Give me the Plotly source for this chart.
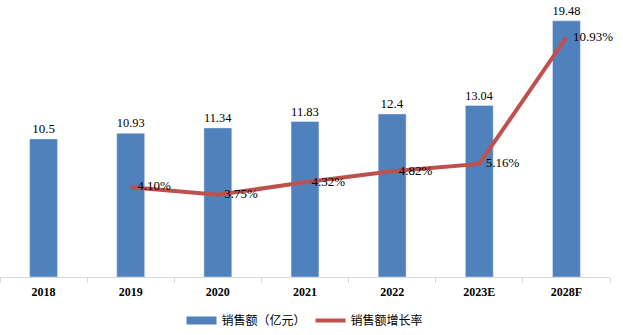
import plotly.graph_objects as go

categories = ["2018", "2019", "2020", "2021", "2022", "2023E", "2028F"]
sales = [10.5, 10.93, 11.34, 11.83, 12.4, 13.04, 19.48]
growth_cats = ["2019", "2020", "2021", "2022", "2023E", "2028F"]
growth = [4.10, 3.75, 4.32, 4.82, 5.16, 10.93]
growth_labels = ["4.10%", "3.75%", "4.32%", "4.82%", "5.16%", "10.93%"]

BLUE = "#4F81BD"
RED = "#C0504D"
SERIF = "Liberation Serif, Times New Roman, serif"
CJK = "Noto Sans CJK SC, sans-serif"
PAD = "\u00a0\u00a0"

fig = go.Figure()
fig.add_trace(go.Bar(
    x=categories, y=sales, marker_color=BLUE, width=0.32,
    text=[str(v) for v in sales], textposition="outside",
    textfont=dict(family=SERIF, size=13, color="#000000"),
    cliponaxis=False, showlegend=False, name="销售额（亿元）",
))
fig.add_trace(go.Scatter(
    x=growth_cats, y=growth, yaxis="y2", mode="lines+text",
    line=dict(color=RED, width=4),
    text=[PAD + t for t in growth_labels], textposition="middle right",
    textfont=dict(family=SERIF, size=13, color="#000000"),
    cliponaxis=False, showlegend=False, name="销售额增长率",
))
# legend entries
fig.add_trace(go.Scatter(
    x=[None], y=[None], mode="lines", line=dict(color=BLUE, width=8),
    name="销售额（亿元）", showlegend=True,
))
fig.add_trace(go.Scatter(
    x=[None], y=[None], mode="lines", line=dict(color=RED, width=4),
    name="销售额增长率", showlegend=True, yaxis="y2",
))

fig.update_layout(
    width=623, height=335,
    margin=dict(l=0, r=13, t=14, b=58),
    plot_bgcolor="white", paper_bgcolor="white",
    bargap=0.6,
    xaxis=dict(
        type="category", categoryorder="array", categoryarray=categories,
        showline=True, linecolor="#D9D9D9", linewidth=1,
        ticks="outside", tickson="boundaries", ticklen=5, tickcolor="#D9D9D9",
        tickfont=dict(family=SERIF, size=12, color="#000000", weight="bold"),
        ticklabelstandoff=4,
        showgrid=False,
    ),
    yaxis=dict(range=[0, 20], visible=False, showgrid=False),
    yaxis2=dict(range=[0, 12], visible=False, overlaying="y", side="right", showgrid=False),
    legend=dict(
        orientation="h", x=0.5, xanchor="center", y=-0.165, yanchor="middle",
        font=dict(family=CJK, size=12, color="#000000"),
        itemwidth=30, tracegroupgap=0,
    ),
)

fig.write_html("out.html")
